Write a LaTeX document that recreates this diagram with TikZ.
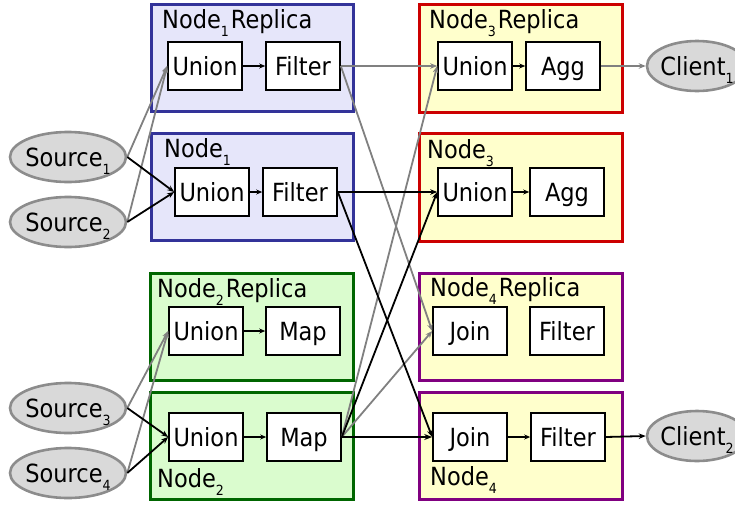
\documentclass[tikz,border=0pt]{standalone}
\usepackage{fontspec}
\setmainfont{DejaVu Sans}[FakeStretch=0.9]
\usetikzlibrary{arrows.meta,shapes.geometric}

\definecolor{bluefill}{HTML}{E6E6FA}
\definecolor{blueline}{HTML}{333399}
\definecolor{yelfill}{HTML}{FFFFCC}
\definecolor{redline}{HTML}{CC0000}
\definecolor{greenfill}{HTML}{DAFCCE}
\definecolor{greenline}{HTML}{006600}
\definecolor{purpline}{HTML}{800080}
\definecolor{endfill}{HTML}{D9D9D9}
\definecolor{endline}{HTML}{8C8C8C}
\definecolor{replline}{HTML}{808080}

% lowered index digit
\newcommand{\idx}[1]{\raisebox{-8.5pt}{\fontsize{14}{14}\selectfont#1}}

\tikzset{
  txt/.style={font=\fontsize{25}{27}\selectfont},
  grp/.style={rectangle, line width=3pt, inner sep=0pt},
  op/.style={txt, rectangle, draw=black, line width=1.6pt, fill=white,
    minimum width=74pt, minimum height=48pt, inner sep=0pt,
    text height=18pt, text depth=0pt},
  endpt/.style={txt, ellipse, draw=endline, line width=2.6pt, fill=endfill,
    minimum width=116pt, minimum height=50pt, inner sep=0pt,
    text height=18pt, text depth=0pt},
  grplabel/.style={txt, anchor=base west, inner sep=0pt},
  flow/.style={-{Stealth[length=7pt,width=5.5pt]}, line width=1.8pt, black},
  repl/.style={-{Stealth[length=7pt,width=5.5pt]}, line width=1.8pt, replline},
  heavy/.style={-{Stealth[length=8pt,width=6pt]}, line width=2.8pt, black},
  inner/.style={-{Stealth[length=6pt,width=5pt]}, line width=1.8pt, black},
}

\begin{document}
\begin{tikzpicture}[x=1pt, y=-1pt]
\useasboundingbox (0,0) rectangle (735,506);

% group boxes
\node[grp, draw=blueline, fill=bluefill, minimum width=202pt, minimum height=107pt] (N1R) at (252,57.5) {};
\node[grp, draw=blueline, fill=bluefill, minimum width=202pt, minimum height=107pt] (N1) at (252,186.5) {};
\node[grp, draw=greenline, fill=greenfill, minimum width=203pt, minimum height=107pt] (N2R) at (251.5,326.5) {};
\node[grp, draw=greenline, fill=greenfill, minimum width=203pt, minimum height=107pt] (N2) at (251.5,445.5) {};
\node[grp, draw=redline, fill=yelfill, minimum width=203pt, minimum height=108pt] (N3R) at (520.5,58) {};
\node[grp, draw=redline, fill=yelfill, minimum width=203pt, minimum height=108pt] (N3) at (520.5,187) {};
\node[grp, draw=purpline, fill=yelfill, minimum width=203pt, minimum height=107pt] (N4R) at (520.5,326.5) {};
\node[grp, draw=purpline, fill=yelfill, minimum width=203pt, minimum height=107pt] (N4) at (520.5,445.5) {};

% group labels
\node[grplabel] (L1R) at (162,28) {Node\idx{1}\hspace{2pt}Replica};
\node[grplabel] (L1) at (164,157) {Node\idx{1}};
\node[grplabel] (L2R) at (157,297) {Node\idx{2}\hspace{2pt}Replica};
\node[grplabel] (L2) at (157,487) {Node\idx{2}};
\node[grplabel] (L3R) at (429,28) {Node\idx{3}\hspace{2pt}Replica};
\node[grplabel] (L3) at (427,158) {Node\idx{3}};
\node[grplabel] (L4R) at (430,296) {Node\idx{4}\hspace{2pt}Replica};
\node[grplabel] (L4) at (430,485) {Node\idx{4}};

% operators
\node[op] (U1R) at (205,66) {Union};
\node[op] (F1R) at (303,66) {Filter};
\node[op] (U1) at (212,192) {Union};
\node[op] (F1) at (300,192) {Filter};
\node[op] (U2R) at (206,331) {Union};
\node[op] (M2R) at (303,331) {Map};
\node[op] (U2) at (206,437) {Union};
\node[op] (M2) at (304,437) {Map};
\node[op] (U3R) at (475,66) {Union};
\node[op] (A3R) at (563,66) {Agg};
\node[op] (U3) at (475,192) {Union};
\node[op] (A3) at (567,192) {Agg};
\node[op] (J4R) at (470,331) {Join};
\node[op] (F4R) at (567,331) {Filter};
\node[op] (J4) at (470,437) {Join};
\node[op] (F4) at (568,437) {Filter};

% sources and clients
\node[endpt] (S1) at (68,157) {\makebox[0pt]{Source\idx{1}}};
\node[endpt] (S2) at (68,222) {\makebox[0pt]{Source\idx{2}}};
\node[endpt] (S3) at (68,408) {\makebox[0pt]{Source\idx{3}}};
\node[endpt] (S4) at (68,473) {\makebox[0pt]{Source\idx{4}}};
\node[endpt, minimum width=100pt] (C1) at (697,66) {\makebox[0pt]{Client\idx{1}}};
\node[endpt, minimum width=100pt] (C2) at (697,436) {\makebox[0pt]{Client\idx{2}}};

% links inside each group
\draw[inner] (U1R) -- (F1R);
\draw[inner] (U1) -- (F1);
\draw[inner] (U2R) -- (M2R);
\draw[inner] (U2) -- (M2);
\draw[inner] (U3R) -- (A3R);
\draw[inner] (U3) -- (A3);
\draw[inner] (J4) -- (F4);

% replica streams
\draw[repl] (S1.east) -- (U1R.west);
\draw[repl] (S2.east) -- (U1R.west);
\draw[repl] (S3.east) -- (U2R.west);
\draw[repl] (S4.east) -- (U2R.west);
\draw[repl] (F1R.east) -- (U3R.west);
\draw[repl] (F1R.east) -- (J4R.west);
\draw[repl] (M2.east) -- (U3R.west);
\draw[repl] (M2.east) -- (J4R.west);
\draw[repl] (A3R.east) -- (C1.west);

% primary streams
\draw[flow] (S1.east) -- (U1.west);
\draw[flow] (S2.east) -- (U1.west);
\draw[flow] (S3.east) -- (U2.west);
\draw[flow] (S4.east) -- (U2.west);
\draw[flow] (F1.east) -- (U3.west);
\draw[flow] (F1.east) -- (J4.west);
\draw[flow] (M2.east) -- (U3.west);
\draw[heavy] (M2.east) -- (J4.west);
\draw[flow] (F4.east) -- (C2.west);
\end{tikzpicture}
\end{document}
